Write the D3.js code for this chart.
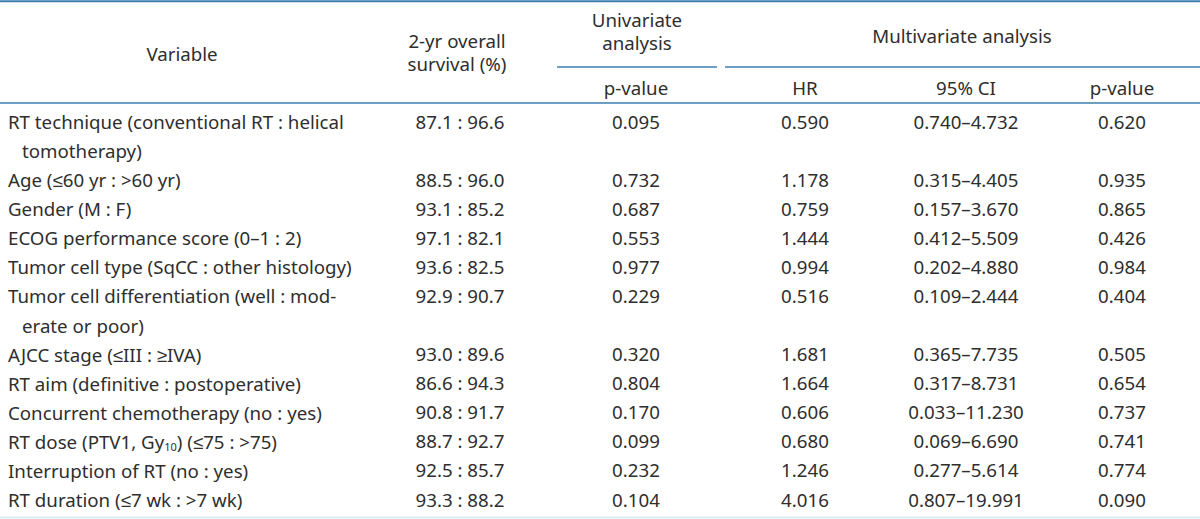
<!DOCTYPE html>
<html><head><meta charset="utf-8">
<script src="https://cdn.jsdelivr.net/npm/d3@7"></script>
<style>html,body{margin:0;padding:0;background:#fff;}svg{display:block;}</style>
</head><body>
<svg id="chart" width="1200" height="519"></svg>
<script>
// ---- data ----
const variables = [
  ["RT technique (conventional RT : helical", "tomotherapy)"],
  ["Age (≤60 yr : >60 yr)"],
  ["Gender (M : F)"],
  ["ECOG performance score (0–1 : 2)"],
  ["Tumor cell type (SqCC : other histology)"],
  ["Tumor cell differentiation (well : mod-", "erate or poor)"],
  ["AJCC stage (≤III : ≥IVA)"],
  ["RT aim (definitive : postoperative)"],
  ["Concurrent chemotherapy (no : yes)"],
  ["RT dose (PTV1, Gy|10|) (≤75 : >75)"],
  ["Interruption of RT (no : yes)"],
  ["RT duration (≤7 wk : >7 wk)"]
];
const survival = ["87.1 : 96.6","88.5 : 96.0","93.1 : 85.2","97.1 : 82.1","93.6 : 82.5","92.9 : 90.7","93.0 : 89.6","86.6 : 94.3","90.8 : 91.7","88.7 : 92.7","92.5 : 85.7","93.3 : 88.2"];
const uniP = ["0.095","0.732","0.687","0.553","0.977","0.229","0.320","0.804","0.170","0.099","0.232","0.104"];
const hr = ["0.590","1.178","0.759","1.444","0.994","0.516","1.681","1.664","0.606","0.680","1.246","4.016"];
const ci = ["0.740–4.732","0.315–4.405","0.157–3.670","0.412–5.509","0.202–4.880","0.109–2.444","0.365–7.735","0.317–8.731","0.033–11.230","0.069–6.690","0.277–5.614","0.807–19.991"];
const multiP = ["0.620","0.935","0.865","0.426","0.984","0.404","0.505","0.654","0.737","0.741","0.774","0.090"];

const svg = d3.select("#chart");
const font = "'Noto Sans', sans-serif";
const fs = 18.7;
const textColor = "#2e2e2e";
const lineColor = "#3c7fb1";

// column centers
const colX = {survival: 460, uni: 636, hr: 805, ci: 966, mp: 1122};

// line index scale for body
const totalLines = d3.sum(variables, d => d.length);
const yLine = d3.scaleLinear().domain([0, totalLines - 1]).range([121, 499]);

// rules
function hline(x1, x2, y, w, c) {
  svg.append("line").attr("x1", x1).attr("x2", x2).attr("y1", y).attr("y2", y)
    .attr("stroke", c).attr("stroke-width", w);
}
hline(0, 1200, 1.2, 2, lineColor);
hline(0, 1200, 103, 1.6, lineColor);
hline(557, 717, 67, 1.6, lineColor);
hline(725, 1200, 67, 1.6, lineColor);
hline(0, 1200, 517.5, 2, "#d8ecf4");

function txt(x, y, s, anchor) {
  return svg.append("text").attr("x", x).attr("y", y).text(s)
    .attr("text-anchor", anchor || "middle").attr("dominant-baseline", "central")
    .attr("font-family", font).attr("font-size", fs).attr("fill", textColor);
}
// header
txt(182, 53, "Variable");
txt(457, 40, "2-yr overall");
txt(457, 63, "survival (%)");
txt(637, 19, "Univariate");
txt(637, 42, "analysis");
txt(962, 35, "Multivariate analysis");
txt(colX.uni, 87, "p-value");
txt(colX.hr, 87, "HR");
txt(colX.ci, 87, "95% CI");
txt(colX.mp, 87, "p-value");

// body
let li = 0;
variables.forEach((lines, i) => {
  const y0 = yLine(li);
  lines.forEach((ln, k) => {
    const t = svg.append("text").attr("x", k === 0 ? 8 : 22).attr("y", yLine(li + k))
      .attr("dominant-baseline", "central")
      .attr("font-family", font).attr("font-size", fs).attr("fill", textColor);
    const parts = ln.split("|");
    parts.forEach((p, j) => {
      const ts = t.append("tspan").text(p);
      if (j % 2 === 1) ts.attr("font-size", 11).attr("dy", 5);
      else if (j > 0) ts.attr("dy", -5);
    });
  });
  txt(colX.survival, y0, survival[i]);
  txt(colX.uni, y0, uniP[i]);
  txt(colX.hr, y0, hr[i]);
  txt(colX.ci, y0, ci[i]);
  txt(colX.mp, y0, multiP[i]);
  li += lines.length;
});
</script>
</body></html>
